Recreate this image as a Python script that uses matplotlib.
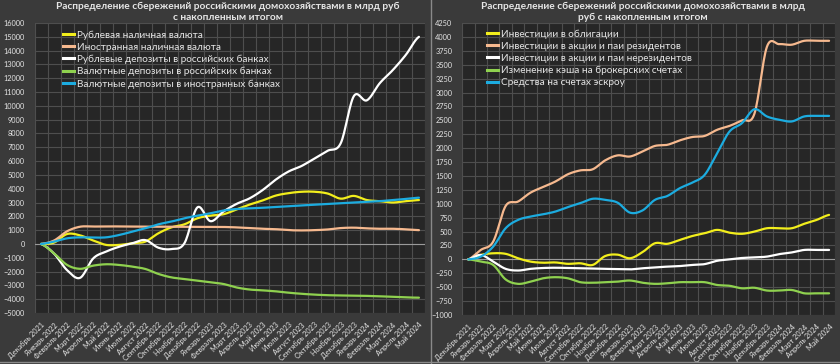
import numpy as np
import matplotlib.pyplot as plt
from matplotlib.lines import Line2D

plt.rcParams['font.family'] = ['Lato', 'DejaVu Sans']

months = ['Декабрь 2021', 'Январь 2022', 'Февраль 2022', 'Март 2022', 'Апрель 2022',
          'Май 2022', 'Июнь 2022', 'Июль 2022', 'Август 2022', 'Сентябрь 2022',
          'Октябрь 2022', 'Ноябрь 2022', 'Декабрь 2022', 'Январь 2023', 'Февраль 2023',
          'Март 2023', 'Апрель 2023', 'Май 2023', 'Июнь 2023', 'Июль 2023',
          'Август 2023', 'Сентябрь 2023', 'Октябрь 2023', 'Ноябрь 2023', 'Декабрь 2023',
          'Январь 2024', 'Февраль 2024', 'Март 2024', 'Апрель 2024', 'Май 2024']

# левая диаграмма, млрд руб
rub_cash = [0, 100, 720, 620, 250, -70, -70, 50, 170, 770, 1200, 1420, 1860, 2050, 2150,
            2500, 2850, 3150, 3500, 3680, 3780, 3780, 3650, 3280, 3480, 3180, 3100, 3000, 3100, 3180]
fx_cash = [0, 250, 920, 1250, 1260, 1270, 1270, 1260, 1250, 1250, 1250, 1240, 1240, 1230, 1230,
           1200, 1150, 1100, 1070, 1000, 980, 1000, 1050, 1150, 1180, 1130, 1100, 1100, 1060, 1000]
rub_dep = [0, -700, -1900, -2450, -1050, -550, -200, 50, 280, -270, -370, 50, 2650, 1650, 2350,
           2900, 3300, 3900, 4650, 5250, 5650, 6200, 6750, 7300, 10700, 10400, 11650, 12600, 13700, 15000]
fx_dep_ru = [0, -680, -1520, -1800, -1570, -1470, -1520, -1640, -1810, -2170, -2420, -2540, -2660, -2780, -2900,
             -3150, -3300, -3360, -3430, -3530, -3610, -3670, -3710, -3730, -3740, -3760, -3790, -3830, -3870, -3890]
fx_dep_abroad = [0, 170, 410, 480, 460, 480, 650, 890, 1130, 1420, 1620, 1860, 2050, 2220, 2420,
                 2530, 2580, 2620, 2680, 2740, 2790, 2840, 2890, 2950, 3000, 3050, 3100, 3180, 3260, 3350]

# правая диаграмма, млрд руб
bonds = [0, 80, 110, 100, 20, -40, -60, -55, -80, -70, -100, 60, 85, 20, 130,
         290, 280, 350, 420, 470, 530, 480, 460, 500, 560, 560, 560, 640, 710, 800]
stocks_res = [0, 170, 320, 960, 1040, 1200, 1300, 1400, 1530, 1600, 1620, 1780, 1870, 1850, 1940,
              2040, 2060, 2140, 2200, 2220, 2330, 2400, 2500, 2620, 3820, 3870, 3860, 3930, 3930, 3930]
stocks_nonres = [0, 80, -40, -170, -200, -170, -155, -150, -155, -160, -165, -170, -175, -180, -160,
                 -145, -130, -120, -100, -85, -25, 0, 25, 35, 50, 95, 125, 170, 170, 170]
broker_cash = [0, -40, -100, -360, -440, -400, -340, -320, -340, -410, -420, -410, -400, -380, -420,
               -440, -430, -410, -410, -410, -460, -475, -520, -510, -560, -560, -550, -610, -610, -610]
escrow = [0, 50, 230, 560, 710, 770, 810, 860, 940, 1010, 1090, 1070, 1020, 840, 880,
          1070, 1140, 1280, 1380, 1520, 1910, 2300, 2450, 2700, 2570, 2510, 2480, 2570, 2580, 2580]

left_labels = ['Рублевая наличная валюта', 'Иностранная наличная валюта',
               'Рублевые депозиты в российских банках', 'Валютные депозиты в российских банках',
               'Валютные депозиты в иностранных банках']
right_labels = ['Инвестиции в облигации', 'Инвестиции в акции и паи резидентов',
                'Инвестиции в акции и паи нерезидентов', 'Изменение кэша на брокерских счетах',
                'Средства на счетах эскроу']
colors = ['#f2ee1c', '#f6b98f', '#ffffff', '#8fd14f', '#1cace0']

BG = '#3a3a3a'
PLOT_BG = '#262626'
GRID = '#4e4e4e'
TXT = '#e6e6e6'


def smooth(y, steps=16):
    # сглаживание как у линий Excel (Catmull-Rom)
    y = np.asarray(y, dtype=float)
    n = len(y)
    p = np.concatenate([[y[0]], y, [y[-1]]])
    t = np.linspace(0, 1, steps, endpoint=False)
    xs, ys = [], []
    for i in range(n - 1):
        p0, p1, p2, p3 = p[i], p[i + 1], p[i + 2], p[i + 3]
        ys.append(0.5 * (2 * p1 + (-p0 + p2) * t + (2 * p0 - 5 * p1 + 4 * p2 - p3) * t ** 2
                         + (-p0 + 3 * p1 - 3 * p2 + p3) * t ** 3))
        xs.append(i + t)
    xs.append([n - 1])
    ys.append([y[-1]])
    return np.concatenate(xs), np.concatenate(ys)


def style_axes(ax, ylim, ystep):
    ax.set_facecolor(PLOT_BG)
    ax.set_xlim(-0.5, len(months) - 0.5)
    ax.set_ylim(*ylim)
    ax.set_yticks(np.arange(ylim[0], ylim[1] + 1, ystep))
    ax.set_xticks(np.arange(len(months)))
    ax.set_xticklabels(months, rotation=45, ha='right', va='top', rotation_mode='anchor')
    ax.set_xticks(np.arange(-0.5, len(months)), minor=True)
    ax.tick_params(axis='both', which='both', length=0, labelsize=5.3, colors=TXT)
    ax.tick_params(axis='y', pad=7)
    ax.tick_params(axis='x', pad=6)
    ax.grid(True, which='major', axis='y', color=GRID, lw=0.8)
    ax.grid(True, which='minor', axis='x', color=GRID, lw=0.8)
    ax.set_axisbelow(True)
    for s in ax.spines.values():
        s.set_visible(False)
    ax.axhline(0, color='#9a9a9a', lw=0.8, zorder=1)


fig = plt.figure(figsize=(8.4, 3.64), dpi=100, facecolor=BG)

ax1 = fig.add_axes([0.0411, 0.1401, 0.4654, 0.7967])
style_axes(ax1, (-5000, 16000), 1000)
for vals, c, lab in zip([rub_cash, fx_cash, rub_dep, fx_dep_ru, fx_dep_abroad], colors, left_labels):
    xs, ys = smooth(vals)
    ax1.plot(xs, ys, color=c, lw=1.6, label=lab, zorder=3, solid_capstyle='round')

ax2 = fig.add_axes([0.5501, 0.1346, 0.4443, 0.8022])
style_axes(ax2, (-1000, 4250), 250)
for vals, c, lab in zip([bonds, stocks_res, stocks_nonres, broker_cash, escrow], colors, right_labels):
    xs, ys = smooth(vals)
    ax2.plot(xs, ys, color=c, lw=1.6, label=lab, zorder=3, solid_capstyle='round')

for ax, anchor in [(ax1, (0.072, 0.975)), (ax2, (0.068, 0.978))]:
    handles = [Line2D([], [], color=c, lw=2.2) for c in colors]
    labs = left_labels if ax is ax1 else right_labels
    leg = ax.legend(handles, labs, loc='upper left', bbox_to_anchor=anchor, frameon=False,
                    fontsize=7.2, handlelength=1.1, handletextpad=0.3, labelspacing=0.3,
                    borderpad=0, borderaxespad=0)
    for t in leg.get_texts():
        t.set_color(TXT)

fig.text(228 / 840, 1 - 1.5 / 364,
         'Распределение сбережений российскими домохозяйствами в млрд руб\nс накопленным итогом',
         ha='center', va='top', fontsize=7.3, fontweight='bold', color=TXT, linespacing=1.35)
fig.text(643 / 840, 1 - 1.5 / 364,
         'Распределение сбережений российскими домохозяйствами в млрд\nруб с накопленным итогом',
         ha='center', va='top', fontsize=7.3, fontweight='bold', color=TXT, linespacing=1.35)

# границы панелей
fig.add_artist(Line2D([431 / 840, 431 / 840], [0, 1], color='#8a8a8a', lw=1))
fig.add_artist(Line2D([0, 1], [2 / 364, 2 / 364], color='#8a8a8a', lw=1))

fig.savefig('out.png', dpi=100, facecolor=BG)
